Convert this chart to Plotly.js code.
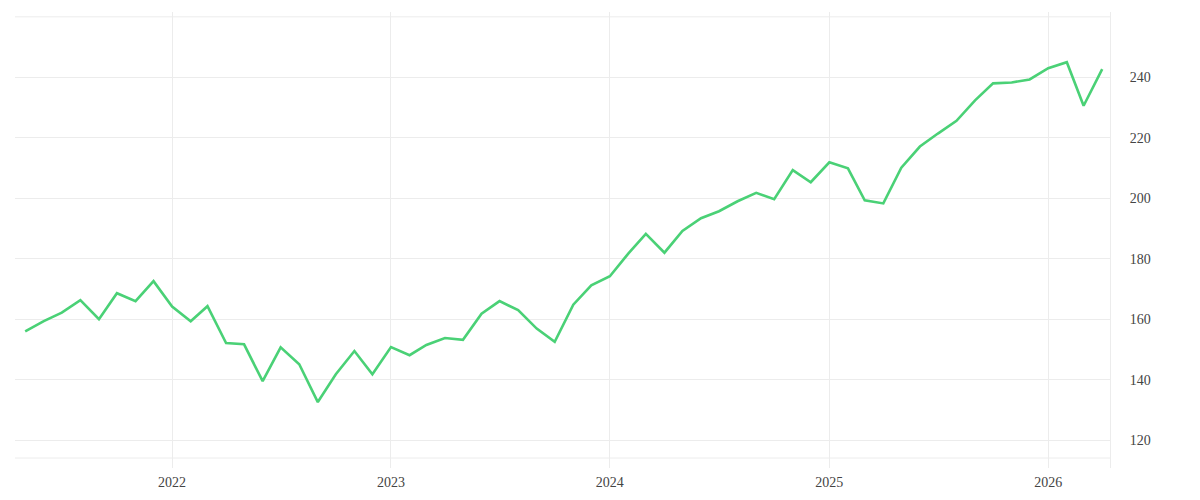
<!DOCTYPE html>
<html>
<head>
<meta charset="utf-8">
<script src="https://cdn.plot.ly/plotly-3.0.1.min.js"></script>
<style>html,body{margin:0;padding:0;background:#fff;}#chart{width:1200px;height:500px;}</style>
</head>
<body>
<div id="chart"></div>
<script>
// Monthly observations, May 2021 - April 2026
const months = [
  "2021-05-01","2021-06-01","2021-07-01","2021-08-01","2021-09-01","2021-10-01","2021-11-01","2021-12-01",
  "2022-01-01","2022-02-01","2022-03-01","2022-04-01","2022-05-01","2022-06-01","2022-07-01","2022-08-01",
  "2022-09-01","2022-10-01","2022-11-01","2022-12-01","2023-01-01","2023-02-01","2023-03-01","2023-04-01",
  "2023-05-01","2023-06-01","2023-07-01","2023-08-01","2023-09-01","2023-10-01","2023-11-01","2023-12-01",
  "2024-01-01","2024-02-01","2024-03-01","2024-04-01","2024-05-01","2024-06-01","2024-07-01","2024-08-01",
  "2024-09-01","2024-10-01","2024-11-01","2024-12-01","2025-01-01","2025-02-01","2025-03-01","2025-04-01",
  "2025-05-01","2025-06-01","2025-07-01","2025-08-01","2025-09-01","2025-10-01","2025-11-01","2025-12-01",
  "2026-01-01","2026-02-01","2026-03-01","2026-04-01"
];
const values = [
  156.0, 159.4, 162.2, 166.3, 160.0, 168.6, 166.0, 172.6,
  164.2, 159.3, 164.3, 152.1, 151.7, 139.5, 150.7, 145.1,
  132.6, 141.8, 149.5, 141.8, 150.8, 148.1, 151.5, 153.8,
  153.2, 161.8, 166.0, 163.0, 156.9, 152.5, 164.8, 171.2,
  174.2, 181.8, 188.2, 182.0, 189.2, 193.4, 195.7, 199.0,
  201.8, 199.7, 209.3, 205.3, 211.9, 209.9, 199.3, 198.3,
  210.1, 217.1, 221.4, 225.6, 232.4, 238.0, 238.3, 239.3,
  243.0, 245.0, 230.6, 242.7
];
const yTickVals = [120, 140, 160, 180, 200, 220, 240];
const yTickText = ["120", "140", "160", "180", "200", "220", "240"];
const extraGridLevels = [260, 114.1];

const gridColor = "#ececec";
const shapes = extraGridLevels.map(v => ({
  type: "line", xref: "paper", yref: "y", x0: 0, x1: 1, y0: v, y1: v,
  line: {color: gridColor, width: 1}, layer: "below"
}));

const trace = {
  x: months, y: values, type: "scatter", mode: "lines",
  line: {color: "#4ad176", width: 2.6},
  hoverinfo: "x+y"
};

const layout = {
  width: 1200, height: 500,
  margin: {l: 15, r: 90, t: 12, b: 32},
  paper_bgcolor: "#ffffff", plot_bgcolor: "#ffffff",
  showlegend: false,
  font: {family: "'Liberation Serif', 'Times New Roman', serif", size: 14, color: "#444"},
  xaxis: {
    type: "date",
    range: ["2021-04-14", "2026-04-14"],
    tick0: "2022-01-01", dtick: "M12", tickformat: "%Y",
    showgrid: true, gridcolor: gridColor, gridwidth: 1,
    zeroline: false, showline: false, ticks: "",
    ticklabelstandoff: 4
  },
  yaxis: {
    side: "right",
    range: [110.8, 261.6],
    tickvals: yTickVals, ticktext: yTickText,
    showgrid: true, gridcolor: gridColor, gridwidth: 1,
    zeroline: false, showline: true, linecolor: gridColor, linewidth: 1,
    ticks: "", ticklabelstandoff: 16
  },
  shapes: shapes
};

Plotly.newPlot("chart", [trace], layout, {displayModeBar: false, staticPlot: true});
</script>
</body>
</html>
